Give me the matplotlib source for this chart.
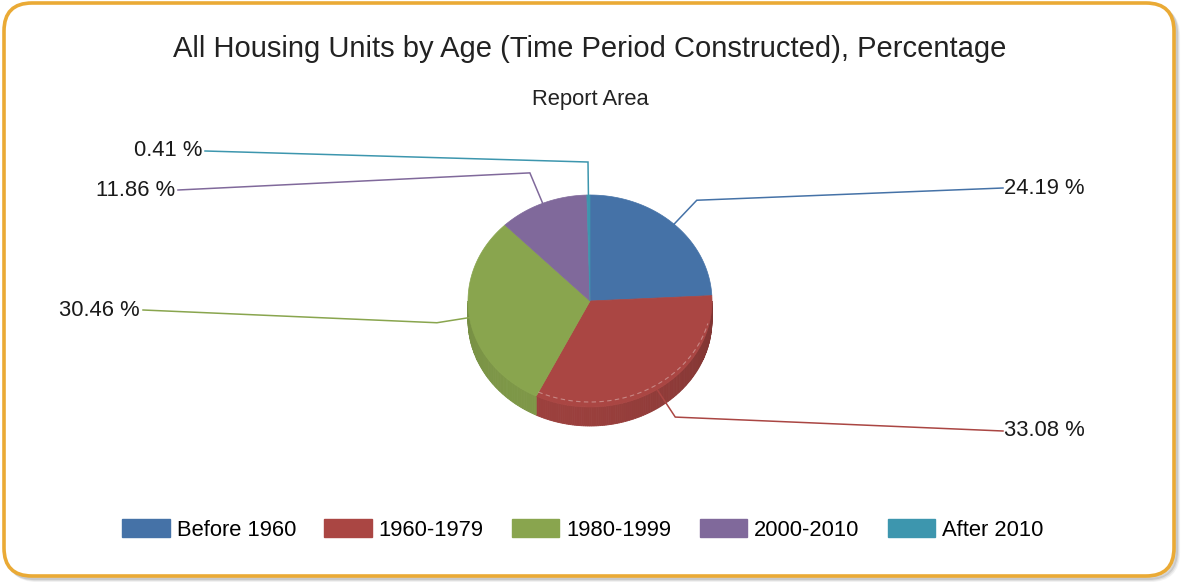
import matplotlib
matplotlib.use("Agg")
import matplotlib.pyplot as plt
import numpy as np
from matplotlib.patches import FancyBboxPatch, Polygon, Patch

plt.rcParams["font.family"] = ["Liberation Sans", "DejaVu Sans"]

# data
categories = ["Before 1960", "1960-1979", "1980-1999", "2000-2010", "After 2010"]
values = [24.19, 33.08, 30.46, 11.86, 0.41]
colors = ["#4572A7", "#AA4643", "#89A54E", "#80699B", "#3D96AE"]
title = "All Housing Units by Age (Time Period Constructed), Percentage"
subtitle = "Report Area"

# layout (pixel coordinates, y downward)
W, H = 1183, 582
CX, CY = 590, 301          # centre of top face
RX, RY = 122, 106          # ellipse radii
DEPTH = 19                 # thickness of the pie side
LEADER = 33                # radial part of leader line
# label end point of each leader line (x, y) and side
label_pos = [(1003, 188, "left"), (1003, 431, "left"), (143, 310, "right"),
             (178, 190, "right"), (205, 151, "right")]
FS = 15.8


def shade(c, f):
    r, g, b = matplotlib.colors.to_rgb(c)
    return (r * f, g * f, b * f)


def ell(t, dy=0.0):
    t = np.radians(t)
    return CX + RX * np.cos(t), CY - RY * np.sin(t) + dy


fig = plt.figure(figsize=(W / 100, H / 100), dpi=100)
ax = fig.add_axes([0, 0, 1, 1])
ax.set_xlim(0, W)
ax.set_ylim(H, 0)
ax.axis("off")

# frame with soft shadow
for i, a in enumerate([0.05, 0.07, 0.10]):
    off = 4 - i
    ax.add_patch(FancyBboxPatch((5 + off, 4 + off), 1169, 572,
                                boxstyle="round,pad=0,rounding_size=28",
                                facecolor="none", edgecolor="black", lw=3, alpha=a, zorder=1))
ax.add_patch(FancyBboxPatch((4, 3), 1170, 573, boxstyle="round,pad=0,rounding_size=28",
                            facecolor="white", edgecolor="#EAAA35", lw=2.6, zorder=2))

# slice angles, clockwise from 12 o'clock
total = sum(values)
spans = [v / total * 360 for v in values]
starts = 90 - np.concatenate([[0], np.cumsum(spans)[:-1]])
ends = starts - np.array(spans)

# side walls (front half only, angles between -180 and 0)
for s, e, c in zip(starts, ends, colors):
    lo, hi = max(min(s, e), -180), min(max(s, e), 0)
    if hi <= lo:
        continue
    ts = np.linspace(hi, lo, max(int(hi - lo), 2) + 1)
    for a, b in zip(ts[:-1], ts[1:]):
        m = np.radians((a + b) / 2)
        f = 0.80 + 0.10 * (-np.sin(m)) - 0.06 * np.cos(m)
        x1, y1 = ell(a)
        x2, y2 = ell(b)
        ax.add_patch(Polygon([(x1, y1), (x2, y2), (x2, y2 + DEPTH), (x1, y1 + DEPTH)],
                             closed=True, facecolor=shade(c, f), edgecolor=shade(c, f),
                             lw=0.6, zorder=3))

# top face
for s, e, c in zip(starts, ends, colors):
    ts = np.linspace(s, e, max(int(abs(s - e)), 2) + 1)
    xs, ys = ell(ts)
    pts = [(CX, CY)] + list(zip(xs, ys))
    ax.add_patch(Polygon(pts, closed=True, facecolor=c, edgecolor=c, lw=0.5, zorder=4))

# faint highlight along front rim of the largest front slice
ts = np.linspace(-115, -15, 80)
xs, ys = ell(ts, -5)
ax.plot(xs, ys, color="white", lw=0.8, ls=(0, (4, 3)), alpha=0.35, zorder=5)

# leader lines and labels
for s, e, c, v, (lx, ly, ha) in zip(starts, ends, colors, values, label_pos):
    m = (s + e) / 2
    ax_, ay_ = ell(m)
    ex = ax_ + LEADER * np.cos(np.radians(m))
    ey = ay_ - LEADER * np.sin(np.radians(m))
    ax.plot([ax_, ex, lx], [ay_, ey, ly], color=c, lw=1.1, zorder=6,
            solid_joinstyle="miter")
    tx = lx + 1 if ha == "left" else lx - 3
    ax.text(tx, ly, f"{v:.2f} %", ha=ha, va="center", fontsize=FS, color="#1a1a1a", zorder=7)

ax.text(590, 49, title, ha="center", va="center", fontsize=21, color="#222222", zorder=7)
ax.text(590, 100, subtitle, ha="center", va="center", fontsize=FS, color="#222222", zorder=7)

handles = [Patch(facecolor=c, edgecolor=c) for c in colors]
fig.legend(handles, categories, loc="center", bbox_to_anchor=(583 / W, 1 - 530 / H),
           ncol=5, frameon=False, fontsize=FS, handlelength=2.15, handleheight=0.9,
           handletextpad=0.32, columnspacing=1.3)

fig.savefig("out.png", dpi=100, facecolor="white")
